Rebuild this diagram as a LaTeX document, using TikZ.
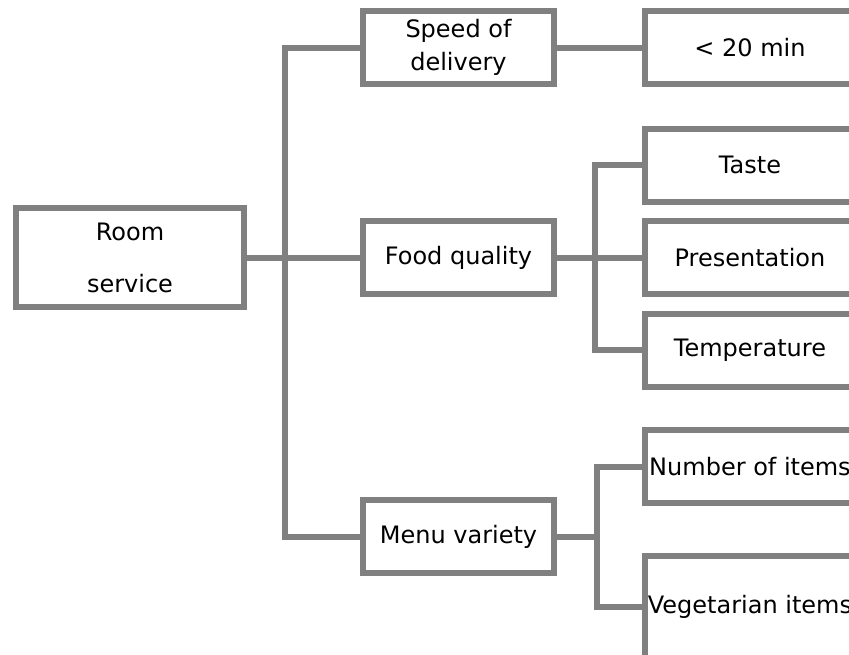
\documentclass[tikz,border=0pt]{standalone}
\usepackage{fontspec}
\setmainfont{DejaVu Sans}
\definecolor{boxgray}{RGB}{128,128,128}
\tikzset{
    lab/.style={
        font=\fontsize{18}{25}\selectfont
    }
}

\begin{document}
\begin{tikzpicture}[x=0.75pt,y=-0.75pt, line join=miter]

\tikzset{
  main/.style={draw=boxgray, line width=4.5pt},
  box/.style={main, rectangle, fill=white, lab, align=center, inner sep=0pt,
    minimum width=143.25pt, minimum height=54.75pt},
  leaf/.style={box, minimum width=157.5pt},
}

\useasboundingbox (0,0) rectangle (849,654);
\clip (0,0) rectangle (849,654);

\coordinate (R) at (130,257.5);
\coordinate (S) at (458.5,47.5);
\coordinate (F) at (458.5,257.5);
\coordinate (M) at (458.5,536.5);
\coordinate (L0) at (750,47.5);
\coordinate (T1) at (750,165);
\coordinate (T2) at (750,257.5);
\coordinate (T3) at (750,350);
\coordinate (N1) at (750,466.5);
\coordinate (N2) at (750,606.5);

% split points
\coordinate (J1) at (285,257.5);
\coordinate (J2) at (595,257.5);
\coordinate (J3) at (597,536.5);

% boxes
\node[box, minimum width=171pt, minimum height=74.25pt] (room) at (R) {Room\\[14pt]service};
\node[box] (speed) at (S) {Speed of\\delivery};
\node[box] (food) at (F) {Food quality};
\node[box] (menu) at (M) {Menu variety};

\node[leaf] (time) at (L0) {< 20 min};
\node[leaf] (taste) at (T1) {Taste};
\node[leaf] (pres) at (T2) {Presentation};
\node[leaf] (temp) at (T3) {Temperature};
\node[leaf] (items) at (N1) {Number of items};
\node[leaf, minimum height=76.5pt] (veg) at (N2) {Vegetarian items};

% room service -> three branches
\draw[main] (room.east) -- (J1);
\draw[main] (J1) |- (speed.west);
\draw[main] (J1) -- (food.west);
\draw[main] (J1) |- (menu.west);

% speed of delivery
\draw[main] (speed.east) -- (time.west);

% food quality
\draw[main] (food.east) -- (J2);
\draw[main] (J2) |- (taste.west);
\draw[main] (J2) -- (pres.west);
\draw[main] (J2) |- (temp.west);

% menu variety
\draw[main] (menu.east) -- (J3);
\draw[main] (J3) |- (items.west);
\draw[main] (J3) |- (veg.west);

\end{tikzpicture}
\end{document}
